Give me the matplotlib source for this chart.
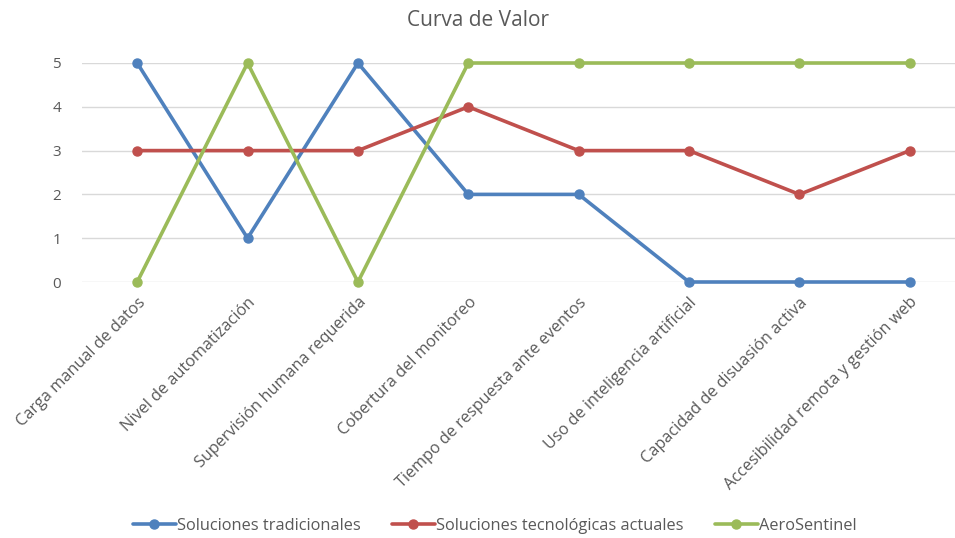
import matplotlib
matplotlib.use("Agg")
import matplotlib.pyplot as plt

categories = ["Carga manual de datos", "Nivel de automatización", "Supervisión humana requerida",
              "Cobertura del monitoreo", "Tiempo de respuesta ante eventos", "Uso de inteligencia artificial",
              "Capacidad de disuasión activa", "Accesibilidad remota y gestión web"]
tradicionales = [5, 1, 5, 2, 2, 0, 0, 0]
tecnologicas = [3, 3, 3, 4, 3, 3, 2, 3]
aerosentinel = [0, 5, 0, 5, 5, 5, 5, 5]
series_names = ["Soluciones tradicionales", "Soluciones tecnológicas actuales", "AeroSentinel"]
yticks = [0, 1, 2, 3, 4, 5]

plt.rcParams['font.family'] = ['Open Sans', 'DejaVu Sans']
txt = '#595959'

fig = plt.figure(figsize=(9.55, 5.38), dpi=100)
W, H = 955, 538
left, right = 82, 965
top, bottom = 63, 282
ax = fig.add_axes([left / W, (H - bottom) / H, (right - left) / W, (bottom - top) / H])

x = list(range(len(categories)))
colors = ['#4F81BD', '#C0504D', '#9BBB59']
for vals, name, c in zip([tradicionales, tecnologicas, aerosentinel], series_names, colors):
    ax.plot(x, vals, color=c, lw=2.6, marker='o', ms=6.5, label=name, clip_on=False,
            solid_capstyle='round', zorder=3)

ax.set_xlim(-0.5, len(categories) - 0.5)
ax.set_ylim(0, 5)
ax.set_yticks(yticks)
ax.set_yticklabels([str(v) for v in yticks], fontsize=11, color=txt)
ax.grid(axis='y', color='#D9D9D9', lw=1)
ax.set_axisbelow(True)
for s in ax.spines.values():
    s.set_visible(False)
ax.tick_params(axis='both', length=0)
ax.tick_params(axis='y', pad=15)
ax.set_xticks(x)
ax.set_xticklabels(categories, rotation=45, ha='right', rotation_mode='anchor',
                   fontsize=11.7, color=txt)
ax.tick_params(axis='x', pad=9)

fig.text(478 / W, 1 - 20 / H, "Curva de Valor", ha='center', va='center', fontsize=15, color=txt)

leg = fig.legend(loc='center', bbox_to_anchor=(495 / W, 1 - 526 / H), ncol=3, frameon=False,
                 fontsize=11.8, handlelength=2.6, columnspacing=1.9, handletextpad=0.1)
for t in leg.get_texts():
    t.set_color(txt)

fig.savefig("out.png", dpi=100)
